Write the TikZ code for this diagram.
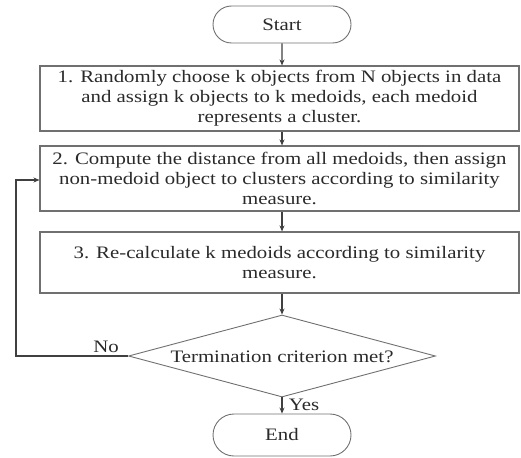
\documentclass[tikz,border=0pt]{standalone}
\usepackage{fontspec}
\setmainfont{Liberation Serif}[FakeStretch=1.19]
\usetikzlibrary{shapes.misc,shapes.geometric,arrows.meta}
\definecolor{edgegray}{HTML}{707070}
\definecolor{linegray}{HTML}{404040}
\definecolor{txt}{HTML}{2A2A2A}
\begin{document}
\begin{tikzpicture}[x=1pt,y=-1pt,
  font=\fontsize{17.5}{20}\selectfont, text=txt,
  terminal/.style={draw=edgegray, line width=0.9pt, rounded rectangle, minimum width=138pt, minimum height=37pt, inner sep=0pt},
  stepbox/.style={draw=edgegray, line width=1.1pt, rectangle, inner sep=0pt, align=center, minimum width=479pt},
  flow/.style={draw=linegray, line width=1.1pt, -{Stealth[length=6pt,width=5pt]}},
  lbl/.style={inner sep=0pt}
]
\useasboundingbox (0,0) rectangle (521,457);

% terminals, process steps and the decision
\node[terminal] (start) at (282,24.5) {Start};
\node[stepbox, minimum height=65pt] (s1) at (279.5,98.5)
  {1. Randomly choose k objects from N objects in data\\and assign k objects to k medoids, each medoid\\represents a cluster.};
\node[stepbox, minimum height=65pt] (s2) at (279.5,178.5)
  {2. Compute the distance from all medoids, then assign\\non-medoid object to clusters according to similarity\\measure.};
\node[stepbox, minimum height=61pt] (s3) at (279.5,262.5)
  {3. Re-calculate k medoids according to similarity\\measure.};
\node[diamond, draw=edgegray, line width=0.9pt, aspect=3.75, minimum width=307pt, minimum height=82pt, inner sep=0pt] (d) at (282,356) {};
\node[lbl] at (282,357) {Termination criterion met?};
\node[terminal, minimum height=42pt] (end) at (282,435) {End};

% feedback path for the "No" branch
\coordinate (loopc) at (16,356);
\coordinate (loopt) at (16,180);

\draw[flow] (start) -- (s1.north -| start);
\draw[flow] (s1.south -| start) -- (s2.north -| start);
\draw[flow] (s2.south -| start) -- (s3.north -| start);
\draw[flow] (s3.south -| start) -- (d.north);
\draw[flow] (d.south) -- (end.north);
\draw[flow] (d.west) -- (loopc) -- (loopt) -- (loopt -| s2.west);

\node[lbl] at (106,347) {No};
\node[lbl] at (304,405) {Yes};
\end{tikzpicture}
\end{document}
